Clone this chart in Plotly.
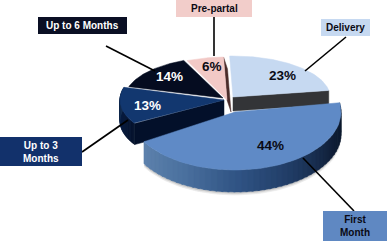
import math
import plotly.graph_objects as go

categories = ["Delivery", "First Month", "Up to 3 Months", "Up to 6 Months", "Pre-partal"]
box_labels = ["Delivery", "First<br>Month", "Up to 3<br>Months", "Up to 6 Months", "Pre-partal"]
values = [23, 44, 13, 14, 6]

top_colors = ["#c6d9f1", "#5f8ac6", "#12376f", "#050c20", "#f2c9c6"]
box_colors = ["#c6d9f1", "#5f88c2", "#12316b", "#0a0f24", "#f2cdca"]
box_text = ["#0a0a14", "#0a0a14", "#ffffff", "#ffffff", "#0a0a14"]
pct_text = ["#0a0a14", "#0a0a14", "#ffffff", "#ffffff", "#0a0a14"]
cut_colors = ["#333437", "#0d1c33", "#03102a", "#03102a", "#4a2c2a"]

# Per-slice ellipse geometry (pixel space): apex x, apex y, rx, ry, depth
geom = [(233, 97, 97, 41, 14), (235, 112, 106, 58, 22), (224, 100, 104, 46, 21),
        (223, 98, 98, 41, 21), (227, 100, 100, 43, 12)]
pct_pos = [(282, 75), (270, 145), (147, 105), (169, 76), (212, 66)]
box_pos = [(321, 19, 370, 36), (323, 211, 387, 241), (0, 137, 82, 166), (38, 17, 127, 34), (176, 0, 252, 17)]
leader = [((346, 37), (305, 71)), ((303, 158), (354, 211)), ((82, 152), (128, 120)),
          ((106, 46), (155, 71)), ((214, 17), (214, 56))]
START = 92

fig = go.Figure()


def poly(xs, ys, color):
    fig.add_trace(go.Scatter(x=xs, y=ys, mode="lines", fill="toself", fillcolor=color,
                             line=dict(color=color, width=0.5), hoverinfo="skip", showlegend=False))


def mix(a, b, t):
    ca = [int(a[i:i + 2], 16) for i in (1, 3, 5)]
    cb = [int(b[i:i + 2], 16) for i in (1, 3, 5)]
    return "#%02x%02x%02x" % tuple(round(p + (q - p) * t) for p, q in zip(ca, cb))


def pt(g, deg, dz=0):
    r = math.radians(deg)
    return g[0] + g[2] * math.cos(r), g[1] - g[3] * math.sin(r) + dz


angles = []
a = START
for v in values:
    angles.append((a, a - v * 3.6))
    a -= v * 3.6


def wedge(i):
    g = geom[i]
    a0, a1 = angles[i]
    n = 60
    arc = [pt(g, a0 + (a1 - a0) * k / n) for k in range(n + 1)]
    poly([g[0]] + [p[0] for p in arc] + [g[0]], [g[1]] + [p[1] for p in arc] + [g[1]], top_colors[i])


def cut(i, deg, dx=0):
    g = geom[i]
    x, y = pt(g, deg)
    d = g[4]
    poly([g[0], x, x + dx, g[0] + dx, g[0]], [g[1], y, y + d, g[1] + d, g[1]], cut_colors[i])


def side(i, stops):
    g = geom[i]
    a0, a1 = angles[i]
    n = 48
    for k in range(n):
        t = k / n
        d0 = a0 + (a1 - a0) * t
        d1 = a0 + (a1 - a0) * (k + 1.3) / n
        if d1 < a1:
            d1 = a1
        s = t * (len(stops) - 1)
        j = min(int(s), len(stops) - 2)
        col = mix(stops[j], stops[j + 1], s - j)
        p0, p1 = pt(g, d0), pt(g, d1)
        poly([p0[0], p1[0], p1[0], p0[0], p0[0]],
             [p0[1], p1[1], p1[1] + g[4], p0[1] + g[4], p0[1]], col)


# soft shadow below the front slice
g1 = geom[1]
for off, col in [(3, "#e8e8e8"), (1.5, "#c9c9c9")]:
    n = 60
    a0, a1 = angles[1]
    arc = [pt(g1, a0 + (a1 - a0) * k / n, g1[4] + off) for k in range(n + 1)]
    poly([g1[0]] + [p[0] for p in arc] + [g1[0]], [g1[1]] + [p[1] for p in arc] + [g1[1]], col)

# back to front
cut(0, angles[0][1])
wedge(0)
cut(4, angles[4][1], dx=4)
wedge(4)
wedge(3)
side(2, ["#05122c", "#0a1f44", "#1c3557"])
cut(2, angles[2][0])
wedge(2)
side(1, ["#0b1728", "#101f38", "#1f3a62", "#2f5283", "#4b719f", "#5f83ad"])
wedge(1)

for (p, q) in leader:
    fig.add_trace(go.Scatter(x=[p[0], q[0]], y=[p[1], q[1]], mode="lines",
                             line=dict(color="#000000", width=1.6), hoverinfo="skip", showlegend=False))

shapes = []
annotations = []
for i, cat in enumerate(categories):
    x0, y0, x1, y1 = box_pos[i]
    shapes.append(dict(type="rect", x0=x0, y0=y0, x1=x1, y1=y1, xref="x", yref="y",
                       fillcolor=box_colors[i], line=dict(width=0), layer="above"))
    label = "<b>" + box_labels[i].replace("<br>", "</b><br><b>") + "</b>"
    annotations.append(dict(x=(x0 + x1) / 2, y=(y0 + y1) / 2, xref="x", yref="y", text=label,
                            showarrow=False, font=dict(family="Liberation Sans", size=10, color=box_text[i]),
                            align="center"))
    annotations.append(dict(x=pct_pos[i][0], y=pct_pos[i][1], xref="x", yref="y", text=f"<b>{values[i]}%</b>",
                            showarrow=False, font=dict(family="Liberation Sans", size=13.5, color=pct_text[i])))

fig.update_layout(width=387, height=241, margin=dict(l=0, r=0, t=0, b=0),
                  paper_bgcolor="#ffffff", plot_bgcolor="#ffffff",
                  xaxis=dict(range=[0, 387], visible=False, fixedrange=True),
                  yaxis=dict(range=[241, 0], visible=False, fixedrange=True),
                  shapes=shapes, annotations=annotations, showlegend=False)
fig.write_html("out.html", config=dict(displayModeBar=False),
               post_script="document.body.style.margin='0';document.body.style.overflow='hidden';")
